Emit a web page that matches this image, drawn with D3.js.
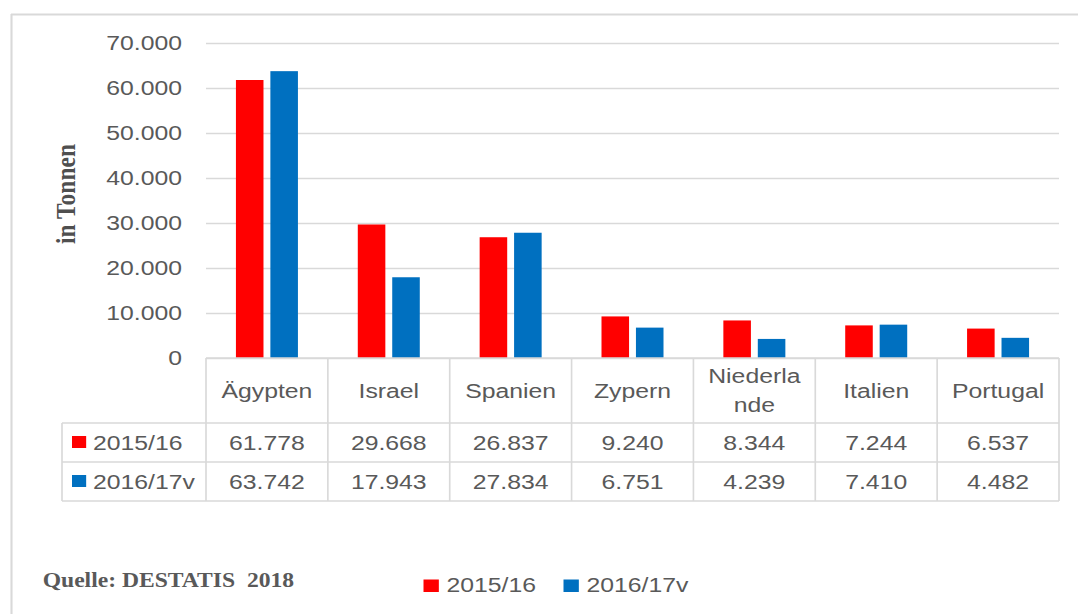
<!doctype html>
<html lang="de">
<head>
<meta charset="UTF-8">
<title>Importe in Tonnen</title>
<script src="https://d3js.org/d3.v7.min.js"></script>
<style>
  html, body { margin: 0; padding: 0; background: #fff; overflow: hidden; }
  svg { display: block; }
</style>
</head>
<body>
<div id="chart-area"></div>
<script>

const categories = ['Ägypten', 'Israel', 'Spanien', 'Zypern', 'Niederlande', 'Italien', 'Portugal'];
const headerLines = [['Ägypten'], ['Israel'], ['Spanien'], ['Zypern'], ['Niederla', 'nde'], ['Italien'], ['Portugal']];
const seriesNames = ['2015/16', '2016/17v'];
const values1516 = [61778, 29668, 26837, 9240, 8344, 7244, 6537];
const values1617 = [63742, 17943, 27834, 6751, 4239, 7410, 4482];
const yTicks = [0, 10000, 20000, 30000, 40000, 50000, 60000, 70000];
const colors = ['#ff0000', '#0070c0'];

const W = 1078, H = 614;
// the source picture is stretched sideways, so draw in a narrower box and stretch it
const SX = 1.18;
const X = px => px / SX;

const grey = '#595959';
const lineCol = '#d9d9d9';
const font = '"Liberation Sans", Arial, sans-serif';
const serif = '"Liberation Serif", "Times New Roman", serif';
const fs = 21;

const de = d3.formatLocale({ decimal: ',', thousands: '.', grouping: [3], currency: ['', ' €'] });
const fmt = de.format(',d');

const svg = d3.select('#chart-area')
    .append('svg')
    .attr('width', W)
    .attr('height', H)
    .attr('viewBox', `0 0 ${W / SX} ${H}`)
    .attr('preserveAspectRatio', 'none');

// outer frame (left + top)
svg.append('line')
    .attr('x1', X(11.5)).attr('x2', X(11.5)).attr('y1', 14).attr('y2', H)
    .attr('stroke', lineCol).attr('stroke-width', 1.8);
svg.append('line')
    .attr('x1', X(11)).attr('x2', W / SX).attr('y1', 14.5).attr('y2', 14.5)
    .attr('stroke', lineCol).attr('stroke-width', 2);

const x = d3.scaleBand()
    .domain(categories)
    .range([X(206), X(1059)])
    .padding(0);

const groupW = X(62);
const xs = d3.scaleBand()
    .domain(seriesNames)
    .range([0, groupW])
    .paddingInner(0.2);

const y = d3.scaleLinear()
    .domain([0, 70000])
    .range([358, 43]);

// gridlines + tick labels
const yAxis = svg.append('g')
    .attr('transform', `translate(${X(206)},0)`)
    .call(d3.axisLeft(y)
        .tickValues(yTicks)
        .tickSize(-(X(1059) - X(206)))
        .tickPadding(X(24))
        .tickFormat(fmt));
yAxis.select('.domain').remove();
yAxis.selectAll('line').attr('stroke', lineCol).attr('stroke-width', 1.6);
yAxis.selectAll('text')
    .attr('fill', grey)
    .attr('font-family', font)
    .attr('font-size', fs);

// bars
const series = [values1516, values1617];
const barData = [];
categories.forEach((c, i) => {
    seriesNames.forEach((s, j) => barData.push({ c, s, v: series[j][i], col: colors[j] }));
});

const offset = (x.bandwidth() - groupW) / 2;
svg.append('g').selectAll('rect')
    .data(barData)
    .enter().append('rect')
    .attr('x', d => x(d.c) + offset + xs(d.s))
    .attr('y', d => y(d.v))
    .attr('width', xs.bandwidth())
    .attr('height', d => y(0) - y(d.v))
    .attr('fill', d => d.col);

// y axis title
svg.append('text')
    .attr('transform', `translate(${X(75)},194) rotate(-90)`)
    .attr('text-anchor', 'middle')
    .attr('font-family', serif)
    .attr('font-weight', 'bold')
    .attr('font-size', 23.5)
    .attr('fill', '#4f4f4f')
    .text('in Tonnen');

// data table
const table = svg.append('g');
const rowY = [358, 423, 462, 501];
const tLeft = X(62), tRight = X(1059);

function hline(x1, x2, yy) {
    table.append('line').attr('x1', x1).attr('x2', x2).attr('y1', yy).attr('y2', yy)
        .attr('stroke', lineCol).attr('stroke-width', 1.6);
}
function vline(xx, y1, y2) {
    table.append('line').attr('x1', xx).attr('x2', xx).attr('y1', y1).attr('y2', y2)
        .attr('stroke', lineCol).attr('stroke-width', 1.4);
}

hline(x.range()[0], tRight, rowY[0]);
rowY.slice(1).forEach(yy => hline(tLeft, tRight, yy));
vline(tLeft, rowY[1], rowY[3]);
categories.forEach(c => vline(x(c), rowY[0], rowY[3]));
vline(tRight, rowY[0], rowY[3]);

// header cells
const headMid = (rowY[0] + rowY[1]) / 2;
categories.forEach((c, i) => {
    const lines = headerLines[i];
    lines.forEach((ln, k) => {
        table.append('text')
            .attr('x', x(c) + x.bandwidth() / 2)
            .attr('y', headMid + (k - (lines.length - 1) / 2) * 29 + 7.4)
            .attr('text-anchor', 'middle')
            .attr('font-family', font)
            .attr('font-size', fs)
            .attr('fill', grey)
            .text(ln);
    });
});

// value rows
series.forEach((vals, j) => {
    const mid = (rowY[j + 1] + rowY[j + 2]) / 2;
    table.append('rect')
        .attr('x', X(72)).attr('y', mid - 6.5)
        .attr('width', 12).attr('height', 12)
        .attr('fill', colors[j]);
    table.append('text')
        .attr('x', X(93))
        .attr('y', mid + 7.4)
        .attr('font-family', font)
        .attr('font-size', fs)
        .attr('fill', grey)
        .text(seriesNames[j]);
    categories.forEach((c, i) => {
        table.append('text')
            .attr('x', x(c) + x.bandwidth() / 2)
            .attr('y', mid + 7.4)
            .attr('text-anchor', 'middle')
            .attr('font-family', font)
            .attr('font-size', fs)
            .attr('fill', grey)
            .text(fmt(vals[i]));
    });
});

// source note
svg.append('text')
    .attr('x', X(42.7))
    .attr('y', 587)
    .attr('font-family', serif)
    .attr('font-weight', 'bold')
    .attr('font-size', 20)
    .attr('fill', grey)
    .style('white-space', 'pre')
    .text('Quelle: DESTATIS  2018');

// legend
const legendX = [423.5, 563.5];
const legend = svg.append('g');
seriesNames.forEach((s, j) => {
    legend.append('rect')
        .attr('x', X(legendX[j])).attr('y', 579.5)
        .attr('width', 13).attr('height', 12.5)
        .attr('fill', colors[j]);
    legend.append('text')
        .attr('x', X(legendX[j] + 23))
        .attr('y', 592.5)
        .attr('font-family', font)
        .attr('font-size', fs)
        .attr('fill', grey)
        .text(s);
});

</script>
</body>
</html>
